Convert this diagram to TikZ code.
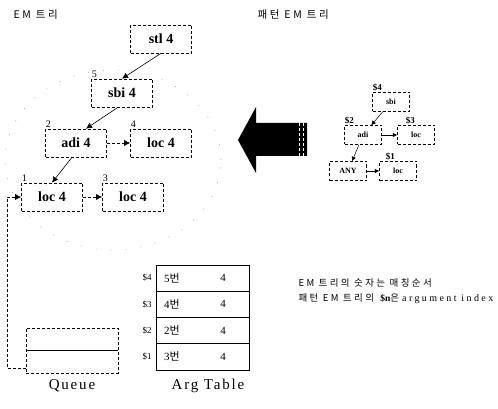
\documentclass[tikz,border=0pt]{standalone}
\usepackage{fontspec}
\setmainfont{Liberation Serif}
\newfontfamily\kr{Noto Sans CJK KR}
\newfontfamily\krwide[LetterSpace=25]{Noto Sans CJK KR}
\newfontfamily\wide[LetterSpace=12]{Liberation Serif}
\newfontfamily\widest[LetterSpace=24]{Liberation Serif}
\usetikzlibrary{arrows.meta}

\tikzset{
  emnode/.style={draw, densely dashed, line width=0.6pt, inner sep=0pt,
    minimum width=61pt, minimum height=28pt,
    font=\fontsize{14}{16}\selectfont\bfseries},
  patnode/.style={draw, densely dashed, line width=0.5pt, inner sep=0pt,
    minimum width=37pt, minimum height=19pt,
    font=\fontsize{8}{9}\selectfont\bfseries},
  order/.style={font=\fontsize{10}{10}\selectfont, inner sep=0.5pt},
  argno/.style={font=\fontsize{9}{9}\selectfont\bfseries, inner sep=0.5pt},
  link/.style={-{Latex[length=6pt,width=6pt]}, line width=0.6pt},
  sublink/.style={-{Latex[length=4.5pt,width=4.5pt]}, line width=0.5pt},
}

\begin{document}
\begin{tikzpicture}[x=1pt, y=-1pt]
  \useasboundingbox (0,0) rectangle (498,409);

  % Titles
  \node[anchor=west, font=\fontsize{10.5}{11}\selectfont\krwide] (ttree) at (10,15) {EM 트리};
  \node[anchor=west, font=\fontsize{10.5}{11}\selectfont\krwide] (tpat) at (254,15) {패턴 EM 트리};

  % EM tree
  \draw[gray!70, line width=0.6pt, dash pattern=on 1pt off 14pt] (113,160) ellipse [x radius=108pt, y radius=90pt];
  \node[emnode] (stl) at (161,39) {stl 4};
  \node[emnode] (sbi) at (122,93) {sbi 4};
  \node[emnode] (adi) at (76,143) {adi 4};
  \node[emnode] (loca) at (161,143) {loc 4};
  \node[emnode] (locb) at (52,197) {loc 4};
  \node[emnode] (locc) at (133,197) {loc 4};

  % Matching order
  \node[order, anchor=south west] (o5) at (sbi.north west) {5};
  \node[order, anchor=south west] (o2) at (adi.north west) {2};
  \node[order, anchor=south west] (o4) at (loca.north west) {4};
  \node[order, anchor=south west] (o1) at (locb.north west) {1};
  \node[order, anchor=south west] (o3) at (locc.north west) {3};

  % Edges
  \draw[link] (stl.south) -- (sbi.north);
  \draw[link] ([xshift=-4pt]sbi.south) -- ([xshift=10pt]adi.north);
  \draw[link, densely dashed] (adi) -- (loca);
  \draw[link] ([xshift=-4pt]adi.south) -- (locb.north);
  \draw[link, densely dashed] (locb) -- (locc);

  % Big arrow
  \fill (238,140) -- (256,107) -- (256,123) -- (307,123) -- (307,156)
    -- (256,156) -- (256,173) -- cycle;
  \draw[white, line width=0.8pt, densely dashed] (299,123) -- (299,156);
  \draw[white, line width=0.8pt, densely dashed] (303,123) -- (303,156);

  % Pattern EM tree
  \node[patnode] (psbi) at (391,102) {sbi};
  \node[patnode] (padi) at (363,135) {adi};
  \node[patnode] (ploc) at (416,135) {loc};
  \node[patnode] (pany) at (348,171) {ANY};
  \node[patnode] (plocb) at (398,171) {loc};
  \node[argno, anchor=south west] (a4) at (psbi.north west) {\$4};
  \node[argno, anchor=south west] (a2) at (padi.north west) {\$2};
  \node[argno, anchor=south west] (a3) at ([xshift=8pt]ploc.north west) {\$3};
  \node[argno, anchor=south west] (a1) at ([xshift=6pt]plocb.north west) {\$1};
  \draw[sublink] (psbi) -- (padi);
  \draw[sublink] (padi) -- (ploc);
  \draw[sublink] (padi) -- (pany);
  \draw[sublink] (pany) -- (plocb);

  % Notes
  \node[anchor=west, font=\fontsize{9.5}{10}\selectfont\krwide] (note1) at (295,283) {EM 트리의 숫자는 매칭순서};
  \node[anchor=west, font=\fontsize{9.5}{10}\selectfont] (note2) at (295,299)
    {{\krwide 패턴 EM 트리의}\hspace{4pt}\textbf{\$n}{\kr 은}\hspace{3pt}{\fontsize{10}{10}\selectfont\widest argument index}};

  % Queue
  \node[draw, densely dashed, line width=0.6pt, minimum width=92pt, minimum height=45pt] (queue) at (72,350.5) {};
  \draw[line width=0.6pt] (queue.west) -- (queue.east);
  \coordinate (qout) at (26,368);
  \draw[link, densely dashed] (qout) -- ++(-19,0) |- (locb.west);
  \node[font=\fontsize{15}{15}\selectfont\wide] (qlabel) at (72,386) {Queue};

  % Arg table
  \node[draw, line width=0.6pt, minimum width=93pt, minimum height=105pt] (argtab) at (202.5,317.5) {};
  \foreach \i/\n/\b in {0/4/5,1/3/4,2/2/2,3/1/3} {
    \draw[line width=0.6pt] (156,{265+26.25*\i}) -- (249,{265+26.25*\i});
    \node[font=\fontsize{9}{9}\selectfont] (s\n) at (147,{278+26.25*\i}) {\$\n};
    \node[font=\fontsize{11}{11}\selectfont] (b\n) at (172,{278+26.25*\i}) {\b{\kr 번}};
    \node[font=\fontsize{11}{11}\selectfont] (v\n) at (223,{278+26.25*\i}) {4};
  }
  \node[font=\fontsize{15}{15}\selectfont\wide] (alabel) at (208,386) {Arg Table};
\end{tikzpicture}
\end{document}
